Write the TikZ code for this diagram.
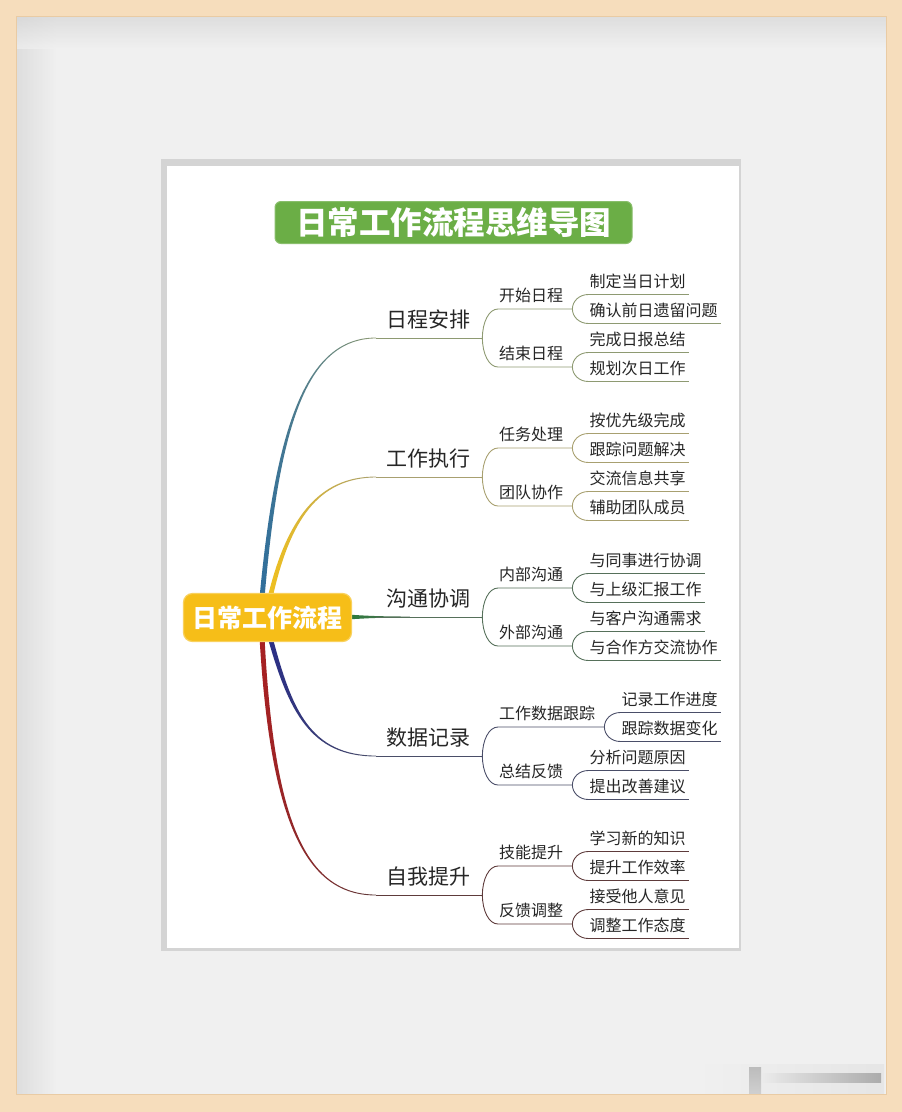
\documentclass[tikz,border=0pt]{standalone}
\usepackage{fontspec}
\newfontfamily\cjk{Noto Sans CJK SC}
\definecolor{wood}{HTML}{F6DDBC}
\definecolor{woodedge}{HTML}{E9CBA4}
\definecolor{mat}{HTML}{F0F0F0}
\definecolor{matdark}{HTML}{D6D6D6}
\definecolor{paperedge}{HTML}{D4D4D4}
\definecolor{titlegreen}{HTML}{6BAE46}
\definecolor{rootyellow}{HTML}{F6BE18}
\definecolor{txt}{HTML}{262626}
\definecolor{b1}{HTML}{2F6E9C}\definecolor{b1tip}{HTML}{8E9A72}
\definecolor{b2}{HTML}{F0C01E}\definecolor{b2tip}{HTML}{A8A070}
\definecolor{b3}{HTML}{2B7A3B}\definecolor{b3tip}{HTML}{56705A}
\definecolor{b4}{HTML}{2A2E86}\definecolor{b4tip}{HTML}{4A4E68}
\definecolor{b5}{HTML}{A82022}\definecolor{b5tip}{HTML}{5E3B3B}
\tikzset{
  mainlbl/.style={font=\cjk\fontsize{21pt}{21pt}\selectfont, text=txt, inner xsep=0pt, inner ysep=10pt, text depth=0pt, anchor=south west},
  sublbl/.style={font=\cjk\fontsize{16pt}{16pt}\selectfont, text=txt, inner xsep=0pt, inner ysep=7pt, text depth=0pt, anchor=south west},
  titlebox/.style={fill=titlegreen, draw=titlegreen!80!white, line width=1pt, rounded corners=6pt, minimum width=357pt, minimum height=42pt, inner sep=0pt, text=white, font=\cjk\bfseries\fontsize{31.5pt}{31.5pt}\selectfont},
  rootbox/.style={fill=rootyellow, draw=rootyellow!70!white, line width=1.2pt, rounded corners=9pt, minimum width=168pt, minimum height=48pt, inner sep=0pt, text=white, font=\cjk\bfseries\fontsize{25pt}{25pt}\selectfont},
  ln1/.style={draw=b1tip, line width=0.9pt},
  ln2/.style={draw=b2tip, line width=0.9pt},
  ln3/.style={draw=b3tip, line width=0.9pt},
  ln4/.style={draw=b4tip, line width=0.9pt},
  ln5/.style={draw=b5tip, line width=0.9pt},
}
% #1 id, #2 Y of main line, #3 main label, #4 #5 sub labels, #6-#9 leaves
\newcommand\mybranch[9]{%
  \node[mainlbl] (m#1) at (376,#2) {\kern10pt#3\kern12pt};
  \node[sublbl] (s#1a) at (498,#2-29) {\kern1pt#4\kern9pt};
  \node[sublbl] (s#1b) at (498,#2+29) {\kern1pt#5\kern9pt};
  \node[sublbl] (l#1a) at ([xshift=16pt,yshift=14.5pt]s#1a.south east) {\kern1pt#6\kern3pt};
  \node[sublbl] (l#1b) at ([xshift=16pt,yshift=-14.5pt]s#1a.south east) {\kern1pt#7\kern3pt};
  \node[sublbl] (l#1c) at ([xshift=16pt,yshift=14.5pt]s#1b.south east) {\kern1pt#8\kern3pt};
  \node[sublbl] (l#1d) at ([xshift=16pt,yshift=-14.5pt]s#1b.south east) {\kern1pt#9\kern3pt};
  \draw[ln#1] (m#1.south west) -- (m#1.south east);
  \draw[ln#1] (m#1.south east) .. controls +(0,-16) and +(-9,0) .. (s#1a.south west) -- (s#1a.south east);
  \draw[ln#1] (m#1.south east) .. controls +(0,16) and +(-9,0) .. (s#1b.south west) -- (s#1b.south east);
  \draw[ln#1] (s#1a.south east) .. controls +(0,-8) and +(-9,0) .. (l#1a.south west) -- (l#1a.south east);
  \draw[ln#1] (s#1a.south east) .. controls +(0,8) and +(-9,0) .. (l#1b.south west) -- (l#1b.south east);
  \draw[ln#1] (s#1b.south east) .. controls +(0,-8) and +(-9,0) .. (l#1c.south west) -- (l#1c.south east);
  \draw[ln#1] (s#1b.south east) .. controls +(0,8) and +(-9,0) .. (l#1d.south west) -- (l#1d.south east);
}
\begin{document}
\begin{tikzpicture}[x=1pt,y=-1pt]
\useasboundingbox (0,0) rectangle (902,1112);
% frame and mat
\fill[wood] (0,0) rectangle (902,1112);
\fill[mat] (16,16) rectangle (886,1094);
\shade[left color=matdark, right color=mat, opacity=0.7] (16,16) rectangle (56,1094);
\shade[top color=matdark, bottom color=mat, opacity=0.7] (16,16) rectangle (886,48);
\draw[woodedge, line width=1pt] (16,16) rectangle (886,1094);
% faint watermark smear
\shade[left color=mat, right color=black!10] (695,1064) rectangle (884,1093);
\shade[left color=black!8, right color=black!55, opacity=0.5] (762,1073) rectangle (881,1082);
\shade[top color=black!45, bottom color=black!30, opacity=0.5] (749,1067) rectangle (761,1093);
% paper
\fill[paperedge] (161,159) rectangle (741,951);
\fill[white] (167,166) rectangle (739,948);
% title
\node[titlebox] (title) at (453.5,222.5) {日常工作流程思维导图};
% tapered main branches
\shade[left color=b1, middle color=b1, right color=b1tip]
  (259.5,598) .. controls (275.2,430) and (305,337.2) .. (376,337.6) --
  (376,338.4) .. controls (305,338.8) and (278.8,430) .. (264.5,598) -- cycle;
\shade[left color=b2, middle color=b2, right color=b2tip]
  (267.5,598) .. controls (286.3,519.5) and (318,476.2) .. (376,476.6) --
  (376,477.4) .. controls (318,477.8) and (289.7,520.5) .. (272.5,598) -- cycle;
\shade[left color=b3, right color=b3tip]
  (348,614.6) .. controls (375,616.2) .. (410,616.6) --
  (410,617.4) .. controls (375,617.8) .. (348,619.4) -- cycle;
\shade[left color=b4, middle color=b4, right color=b4tip]
  (272.5,637) .. controls (291.7,709.5) and (310,755.2) .. (376,755.6) --
  (376,756.4) .. controls (310,756.8) and (288.3,710.5) .. (267.5,637) -- cycle;
\shade[left color=b5, middle color=b5, right color=b5tip]
  (264.5,637) .. controls (273.8,820) and (305,894.2) .. (376,894.6) --
  (376,895.4) .. controls (305,895.8) and (270.2,820) .. (259.5,637) -- cycle;
% central node
\node[rootbox] (root) at (267.5,617.5) {日常工作流程};
% branches
\mybranch{1}{338}{日程安排}{开始日程}{结束日程}{制定当日计划}{确认前日遗留问题}{完成日报总结}{规划次日工作}
\mybranch{2}{477}{工作执行}{任务处理}{团队协作}{按优先级完成}{跟踪问题解决}{交流信息共享}{辅助团队成员}
\mybranch{3}{617}{沟通协调}{内部沟通}{外部沟通}{与同事进行协调}{与上级汇报工作}{与客户沟通需求}{与合作方交流协作}
\mybranch{4}{756}{数据记录}{工作数据跟踪}{总结反馈}{记录工作进度}{跟踪数据变化}{分析问题原因}{提出改善建议}
\mybranch{5}{895}{自我提升}{技能提升}{反馈调整}{学习新的知识}{提升工作效率}{接受他人意见}{调整工作态度}
\end{tikzpicture}
\end{document}
